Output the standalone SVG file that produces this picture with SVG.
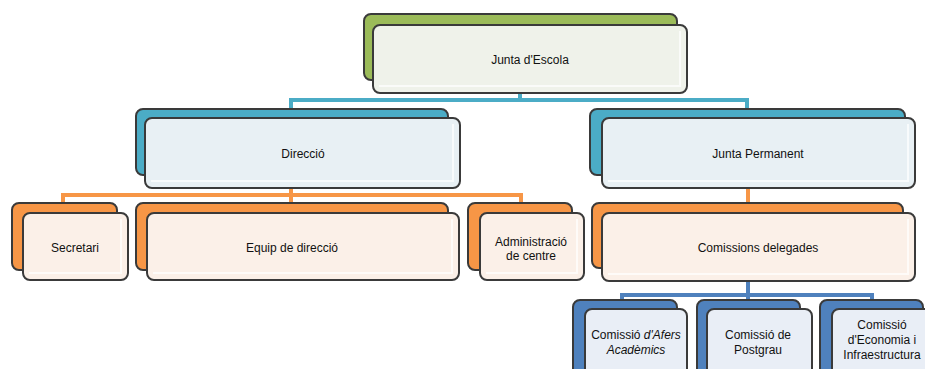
<svg xmlns="http://www.w3.org/2000/svg" width="925" height="369" viewBox="0 0 925 369">
<defs>
<style>
.bk{stroke:#3a3a3a;stroke-width:2}
.fr{stroke:#3a3a3a;stroke-width:2}
.g{fill:#9bbb59}.gf{fill:#eff2ea}
.b{fill:#4bacc6}.bf{fill:#e8f0f4}
.o{fill:#f79646}.of{fill:#fbf0e8}
.d{fill:#4f81bd}.df{fill:#e9eef6}
.t{font-family:"Liberation Sans",Arial,sans-serif;font-size:12px;fill:#111;text-anchor:middle}
.cb{fill:none;stroke:#4bacc6;stroke-width:4}
.co{fill:none;stroke:#f79646;stroke-width:4}
.cd{fill:none;stroke:#4f81bd;stroke-width:4}
.gl{fill:none;stroke:#ffffff;stroke-opacity:0.7;stroke-width:2}
</style>
</defs>
<g id="connectors">
<path class="cb" d="M520 93V100M291 109V100H747V109"/>
<path class="co" d="M291 188V203M63 203V195H521V203"/>
<path class="co" d="M748 188V203"/>
<path class="cd" d="M748 281V300M622 300V295H872V300"/>
</g>
<g id="n-junta">
<rect class="bk g" x="364" y="14" width="313" height="66" rx="7"/>
<rect class="fr gf" x="373" y="25" width="314" height="68" rx="7"/>
<path class="gl" d="M379 86H680V31"/>
<text class="t" x="530" y="64">Junta d'Escola</text>
</g>
<g id="n-direccio">
<rect class="bk b" x="136" y="109" width="312" height="66" rx="7"/>
<rect class="fr bf" x="145" y="118" width="315" height="70" rx="7"/>
<path class="gl" d="M151 181H453V124"/>
<text class="t" x="303" y="158">Direcció</text>
</g>
<g id="n-permanent">
<rect class="bk b" x="590" y="109" width="315" height="66" rx="7"/>
<rect class="fr bf" x="602" y="118" width="313" height="70" rx="7"/>
<path class="gl" d="M608 181H908V124"/>
<text class="t" x="758" y="158">Junta Permanent</text>
</g>
<g id="n-secretari">
<rect class="bk o" x="12" y="203" width="105" height="67" rx="7"/>
<rect class="fr of" x="23" y="213" width="105" height="67" rx="7"/>
<path class="gl" d="M29 273H121V219"/>
<text class="t" x="75" y="252">Secretari</text>
</g>
<g id="n-equip">
<rect class="bk o" x="136" y="203" width="312" height="67" rx="7"/>
<rect class="fr of" x="147" y="213" width="312" height="67" rx="7"/>
<path class="gl" d="M153 273H452V219"/>
<text class="t" x="292" y="252">Equip de direcció</text>
</g>
<g id="n-admin">
<rect class="bk o" x="468" y="203" width="104" height="67" rx="7"/>
<rect class="fr of" x="480" y="213" width="104" height="67" rx="7"/>
<path class="gl" d="M486 273H577V219"/>
<text class="t" x="531" y="246">Administració</text>
<text class="t" x="531" y="260">de centre</text>
</g>
<g id="n-comissions">
<rect class="bk o" x="592" y="203" width="311" height="65" rx="7"/>
<rect class="fr of" x="602" y="213" width="313" height="68" rx="7"/>
<path class="gl" d="M608 274H908V219"/>
<text class="t" x="758" y="252">Comissions delegades</text>
</g>
<g id="n-afers">
<rect class="bk d" x="573" y="300" width="104" height="80" rx="7"/>
<rect class="fr df" x="585" y="309" width="102" height="80" rx="7"/>
<text class="t" x="636" y="339">Comissió <tspan font-style="italic">d'Afers</tspan></text>
<text class="t" x="636" y="354" font-style="italic">Acadèmics</text>
</g>
<g id="n-postgrau">
<rect class="bk d" x="697" y="300" width="103" height="80" rx="7"/>
<rect class="fr df" x="707" y="309" width="105" height="80" rx="7"/>
<text class="t" x="758" y="339">Comissió de</text>
<text class="t" x="758" y="354">Postgrau</text>
</g>
<g id="n-economia">
<rect class="bk d" x="820" y="300" width="103" height="80" rx="7"/>
<rect class="fr df" x="832" y="309" width="100" height="80" rx="7"/>
<text class="t" x="882" y="329">Comissió</text>
<text class="t" x="882" y="344">d'Economia i</text>
<text class="t" x="882" y="359">Infraestructura</text>
</g>
</svg>
